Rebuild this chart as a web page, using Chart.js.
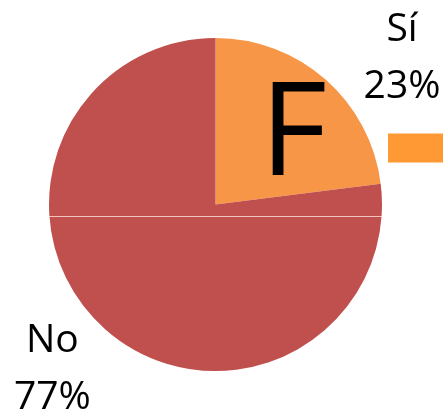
<!DOCTYPE html>
<html lang="es">
<head>
    <meta charset="UTF-8">
    <title>Sí / No</title>
    <script src="https://cdn.jsdelivr.net/npm/chart.js"></script>
    <style>
        html, body { margin: 0; padding: 0; background: #fff; }
        .wrap { width: 443px; height: 414px; }
    </style>
</head>
<body>
    <div class="wrap"><canvas id="pieChart"></canvas></div>
    <script>
        // datos
        const categories = ['Sí', 'No'];
        const values = [23, 77];
        const percentLabels = ['23%', '77%'];
        const sliceColors = ['#F79646', '#C0504D'];

        const labelFont = '39px "Open Sans"';

        // etiquetas fuera del pastel, la "F" y el cuadro de leyenda
        const overlay = {
            id: 'overlay',
            afterDatasetsDraw(chart) {
                const ctx = chart.ctx;
                const arcs = chart.getDatasetMeta(0).data;
                const cx = arcs[0].x, cy = arcs[0].y, r = arcs[0].outerRadius;

                // linea clara horizontal
                ctx.save();
                ctx.strokeStyle = 'rgba(255,225,220,0.8)';
                ctx.lineWidth = 1;
                ctx.beginPath();
                ctx.moveTo(cx - r, Math.round(cy + 11) + 0.5);
                ctx.lineTo(cx + r, Math.round(cy + 11) + 0.5);
                ctx.stroke();

                // etiquetas: distancia y giro respecto al angulo medio
                const place = [[1.425, 0.182], [1.39, 0.06]];
                ctx.fillStyle = '#000';
                ctx.font = labelFont;
                ctx.textAlign = 'center';
                ctx.textBaseline = 'middle';
                arcs.forEach((a, i) => {
                    const mid = (a.startAngle + a.endAngle) / 2 + place[i][1];
                    const x = cx + Math.cos(mid) * r * place[i][0];
                    const y = cy + Math.sin(mid) * r * place[i][0];
                    ctx.fillText(categories[i], x, y - 28);
                    ctx.fillText(percentLabels[i], x, y + 29);
                });

                // letra F
                ctx.font = '130px "Open Sans"';
                ctx.textAlign = 'center';
                ctx.textBaseline = 'alphabetic';
                ctx.fillText('F', cx + 78, cy - 30);

                // cuadro de leyenda (recortado)
                ctx.fillStyle = '#FF9933';
                ctx.fillRect(cx + r + 6, cy - 71, 60, 29);
                ctx.restore();
            }
        };

        new Chart(document.getElementById('pieChart'), {
            type: 'pie',
            data: {
                labels: categories,
                datasets: [{
                    data: values,
                    backgroundColor: sliceColors,
                    borderWidth: 0
                }]
            },
            options: {
                responsive: true,
                maintainAspectRatio: false,
                animation: false,
                layout: { padding: { top: 38, bottom: 43, left: 48, right: 60 } },
                plugins: {
                    legend: { display: false },
                    tooltip: { enabled: false }
                }
            },
            plugins: [overlay]
        });
    </script>
</body>
</html>
